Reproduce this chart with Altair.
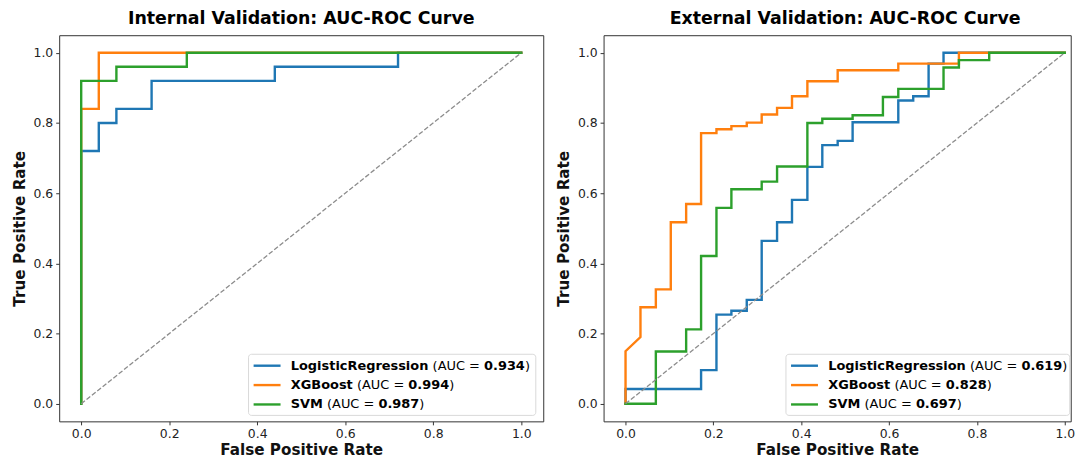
import altair as alt
import pandas as pd

FONT = "DejaVu Sans"

MODELS = ["LogisticRegression", "XGBoost", "SVM"]
COLORS = ["#1f77b4", "#ff7f0e", "#2ca02c"]
TICKS = [0.0, 0.2, 0.4, 0.6, 0.8, 1.0]

# ---- Internal validation ROC points ----
INT_LR_FPR = [0, 0, 0.04, 0.04, 0.08, 0.08, 0.16, 0.16, 0.44, 0.44, 0.72, 0.72, 1.0]
INT_LR_TPR = [0, 0.72, 0.72, 0.80, 0.80, 0.84, 0.84, 0.92, 0.92, 0.96, 0.96, 1.0, 1.0]
INT_XGB_FPR = [0, 0, 0.04, 0.04, 1.0]
INT_XGB_TPR = [0, 0.84, 0.84, 1.0, 1.0]
INT_SVM_FPR = [0, 0, 0.08, 0.08, 0.24, 0.24, 1.0]
INT_SVM_TPR = [0, 0.92, 0.92, 0.96, 0.96, 1.0, 1.0]
INT_AUC = ["0.934", "0.994", "0.987"]

# ---- External validation ROC points ----
EXT_LR_FPR = [0, 0, 0.172, 0.172, 0.207, 0.207, 0.241, 0.241, 0.276, 0.276, 0.310, 0.310,
              0.345, 0.345, 0.379, 0.379, 0.414, 0.414, 0.448, 0.448, 0.483, 0.483, 0.517, 0.517,
              0.621, 0.621, 0.655, 0.655, 0.690, 0.690, 0.724, 0.724, 1.0]
EXT_LR_TPR = [0, 0.042, 0.042, 0.096, 0.096, 0.254, 0.254, 0.265, 0.265, 0.296, 0.296, 0.464,
              0.464, 0.517, 0.517, 0.581, 0.581, 0.675, 0.675, 0.737, 0.737, 0.749, 0.749, 0.802,
              0.802, 0.864, 0.864, 0.876, 0.876, 0.969, 0.969, 1.0, 1.0]
EXT_XGB_FPR = [0, 0, 0.034, 0.034, 0.069, 0.069, 0.103, 0.103, 0.138, 0.138, 0.172, 0.172,
               0.207, 0.207, 0.241, 0.241, 0.276, 0.276, 0.310, 0.310, 0.345, 0.345, 0.379, 0.379,
               0.414, 0.414, 0.483, 0.483, 0.621, 0.621, 0.759, 0.759, 1.0]
EXT_XGB_TPR = [0, 0.15, 0.19, 0.275, 0.275, 0.326, 0.326, 0.517, 0.517, 0.569, 0.569, 0.771,
               0.771, 0.782, 0.782, 0.791, 0.791, 0.801, 0.801, 0.824, 0.824, 0.843, 0.843, 0.876,
               0.876, 0.919, 0.919, 0.950, 0.950, 0.969, 0.969, 1.0, 1.0]
EXT_SVM_FPR = [0, 0.069, 0.069, 0.138, 0.138, 0.172, 0.172, 0.207, 0.207, 0.241, 0.241, 0.310,
               0.310, 0.345, 0.345, 0.414, 0.414, 0.448, 0.448, 0.517, 0.517, 0.586, 0.586, 0.621,
               0.621, 0.724, 0.724, 0.759, 0.759, 0.828, 0.828, 1.0]
EXT_SVM_TPR = [0, 0, 0.149, 0.149, 0.212, 0.212, 0.421, 0.421, 0.558, 0.558, 0.611, 0.611,
               0.633, 0.633, 0.676, 0.676, 0.80, 0.80, 0.812, 0.812, 0.822, 0.822, 0.874, 0.874,
               0.897, 0.897, 0.958, 0.958, 0.979, 0.979, 1.0, 1.0]
EXT_AUC = ["0.619", "0.828", "0.697"]

# ---- approximate DejaVu Sans advance widths (1/1000 em) for legend layout ----
BOLD_W = {" ": 348, ".": 380, "L": 637, "o": 687, "g": 716, "i": 343, "s": 595, "t": 478,
          "c": 593, "R": 770, "e": 678, "r": 493, "n": 712, "X": 774, "G": 821, "B": 762,
          "S": 720, "V": 774, "M": 995}
for d in "0123456789":
    BOLD_W[d] = 696
REG_W = {" ": 318, "(": 390, ")": 390, "A": 684, "U": 732, "C": 698, "=": 838}

LEG_SIZE = 13
PLOT_H = 388.5


def tw(s, table, size=LEG_SIZE):
    return sum(table[c] for c in s) * size / 1000.0


def axis(title, pad):
    return alt.Axis(values=TICKS, format=".1f", title=title, grid=False, domain=False,
                    titlePadding=pad)


def panel(title, curves, aucs, width, xmax, leg_shift, box_right, title_dx):
    xs = alt.Scale(domain=[-0.05, xmax], nice=False, zero=False)
    ys = alt.Scale(domain=[-0.05, 1.05], nice=False, zero=False)
    xa = axis("False Positive Rate", 2.5)
    ya = axis("True Positive Rate", 6)
    layers = []
    for i, (fpr, tpr) in enumerate(curves):
        df = pd.DataFrame({"fpr": fpr, "tpr": tpr, "i": list(range(len(fpr)))})
        layers.append(
            alt.Chart(df).mark_line(color=COLORS[i], strokeWidth=2.4, strokeCap="square").encode(
                x=alt.X("fpr:Q", scale=xs, axis=xa),
                y=alt.Y("tpr:Q", scale=ys, axis=ya),
                order="i:Q",
            )
        )
    diag = pd.DataFrame({"fpr": [0.0, 1.0], "tpr": [0.0, 1.0], "i": [0, 1]})
    layers.append(
        alt.Chart(diag).mark_line(color="#8c8c8c", strokeWidth=1.3, strokeDash=[4.8, 2.1]).encode(
            x=alt.X("fpr:Q", scale=xs, axis=xa),
            y=alt.Y("tpr:Q", scale=ys, axis=ya),
            order="i:Q",
        )
    )
    # legend box
    box = alt.Chart(pd.DataFrame({"k": [0]})).mark_rect(
        fill="white", fillOpacity=0.85, stroke="#d9d9d9", strokeWidth=1, cornerRadius=3
    ).encode(x=alt.value(190.5 - leg_shift), x2=alt.value(box_right),
             y=alt.value(321.0), y2=alt.value(382.5))
    layers.append(box)

    x_name = 233.0 - leg_shift
    rows = []
    for r, (m, a) in enumerate(zip(MODELS, aucs)):
        xp = x_name + tw(m, BOLD_W) + tw(" ", REG_W)
        xv = xp + tw("(AUC = ", REG_W)
        xc = xv + tw(a, BOLD_W)
        rows.append({"model": m, "auc": a, "row": r, "color": COLORS[r],
                     "xn": x_name, "xp": xp, "xv": xv, "xc": xc})
    leg = pd.DataFrame(rows)
    base = alt.Chart(leg).transform_calculate(ypix="332.5 + datum.row * 19.5")
    ypix = alt.Y("ypix:Q", scale=None, axis=None)
    layers.append(
        base.mark_rule(strokeWidth=2.4).encode(
            x=alt.value(195.6 - leg_shift), x2=alt.value(222.7 - leg_shift), y=ypix,
            color=alt.Color("color:N", scale=None, legend=None),
        )
    )
    txt = dict(align="left", baseline="middle", font=FONT, fontSize=LEG_SIZE, color="black")
    layers.append(base.mark_text(fontWeight="bold", **txt).encode(
        x=alt.X("xn:Q", scale=None, axis=None), y=ypix, text="model:N"))
    layers.append(base.mark_text(fontWeight="normal", **txt).encode(
        x=alt.X("xp:Q", scale=None, axis=None), y=ypix, text=alt.value("(AUC =")))
    layers.append(base.mark_text(fontWeight="bold", **txt).encode(
        x=alt.X("xv:Q", scale=None, axis=None), y=ypix, text="auc:N"))
    layers.append(base.mark_text(fontWeight="normal", **txt).encode(
        x=alt.X("xc:Q", scale=None, axis=None), y=ypix, text=alt.value(")")))

    return alt.layer(*layers).properties(
        width=width, height=PLOT_H,
        title=alt.TitleParams(title, font=FONT, fontSize=17.5, fontWeight="bold",
                              anchor="middle", offset=7.8, dx=title_dx, color="black"),
    )


left = panel("Internal Validation: AUC-ROC Curve",
             [(INT_LR_FPR, INT_LR_TPR), (INT_XGB_FPR, INT_XGB_TPR), (INT_SVM_FPR, INT_SVM_TPR)],
             INT_AUC, 487, 1.05, 0.0, 479.5, 0)
right = panel("External Validation: AUC-ROC Curve",
              [(EXT_LR_FPR, EXT_LR_TPR), (EXT_XGB_FPR, EXT_XGB_TPR), (EXT_SVM_FPR, EXT_SVM_TPR)],
              EXT_AUC, 470, 1.0 + 6.0 / 441.0, 7.0, 469.0, 8)

chart = alt.hconcat(left, right, spacing=11.7).properties(
    padding={"left": 3.5, "top": 0, "right": 0, "bottom": -1},
    background="white",
).configure_view(
    stroke="#333333", strokeWidth=1
).configure_axis(
    labelFont=FONT, labelFontSize=12.5, labelColor="#222222", labelPadding=3,
    tickSize=3.5, tickColor="#333333", tickWidth=1,
    titleFont=FONT, titleFontSize=15.3, titleFontWeight="bold", titleColor="#111111",
)

chart.save("out.html", embed_options={"renderer": "svg", "actions": False})
